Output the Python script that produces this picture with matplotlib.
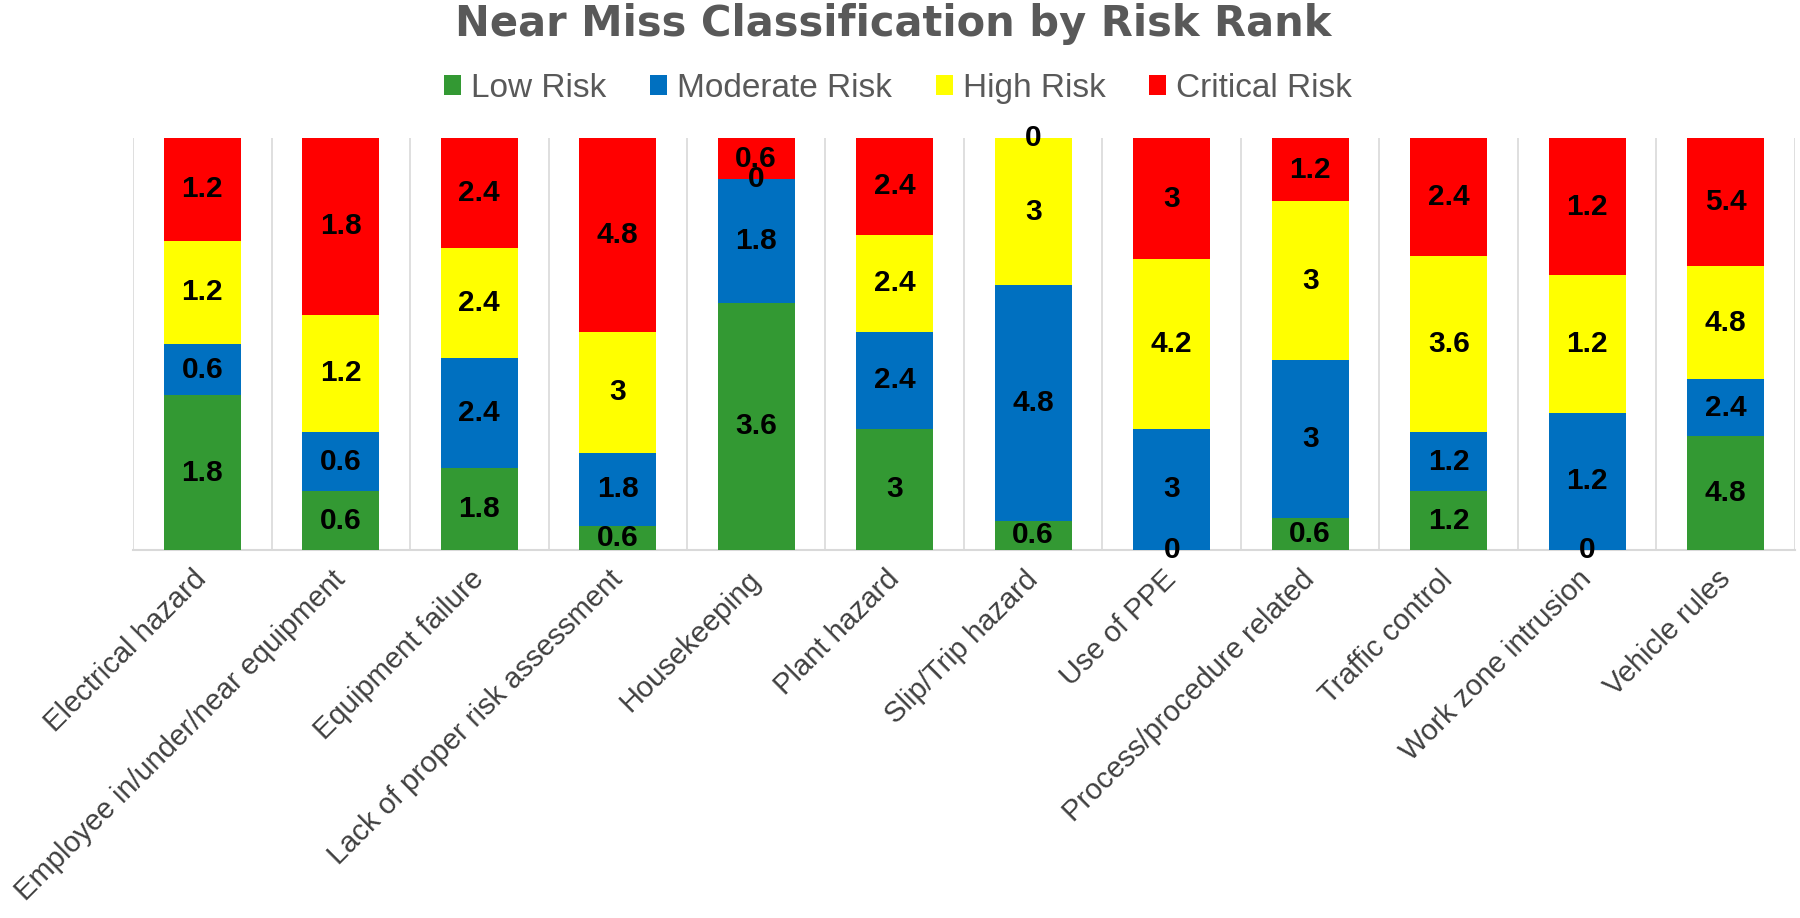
import matplotlib
matplotlib.use("Agg")
import matplotlib.pyplot as plt
import numpy as np

categories = ["Electrical hazard", "Employee in/under/near equipment", "Equipment failure",
              "Lack of proper risk assessment", "Housekeeping", "Plant hazard",
              "Slip/Trip hazard", "Use of PPE", "Process/procedure related",
              "Traffic control", "Work zone intrusion", "Vehicle rules"]
low_risk      = [1.8, 0.6, 1.8, 0.6, 3.6, 3.0, 0.6, 0.0, 0.6, 1.2, 0.0, 4.8]
moderate_risk = [0.6, 0.6, 2.4, 1.8, 1.8, 2.4, 4.8, 3.0, 3.0, 1.2, 1.2, 2.4]
high_risk     = [1.2, 1.2, 2.4, 3.0, 0.0, 2.4, 3.0, 4.2, 3.0, 3.6, 1.2, 4.8]
critical_risk = [1.2, 1.8, 2.4, 4.8, 0.6, 2.4, 0.0, 3.0, 1.2, 2.4, 1.2, 5.4]
series_names = ["Low Risk", "Moderate Risk", "High Risk", "Critical Risk"]
colors = ["#339933", "#0070C0", "#FFFF00", "#FF0000"]

series = [low_risk, moderate_risk, high_risk, critical_risk]
data = np.array(series, dtype=float)
totals = data.sum(axis=0)
shares = data / totals

fig = plt.figure(figsize=(18, 9.18), dpi=100)
ax = fig.add_axes([0.0739, 0.4009, 0.9233, 0.4488])

x = np.arange(len(categories))
bottom = np.zeros(len(categories))
handles = []
for name, vals, frac, col in zip(series_names, series, shares, colors):
    bars = ax.bar(x, frac, bottom=bottom, width=0.555, color=col, label=name,
                  edgecolor="none", zorder=3)
    handles.append(bars)
    for xi, b, f, v in zip(x, bottom, frac, vals):
        lbl = f"{v:g}"
        ax.text(xi, b + f / 2, lbl, ha="center", va="center", fontsize=21.5,
                fontweight="bold", family="Liberation Sans", color="black", zorder=5)
    bottom = bottom + frac

ax.set_xlim(-0.5, len(categories) - 0.5)
ax.set_ylim(0, 1)
ax.set_yticks([])
for b in np.arange(-0.5, len(categories), 1.0):
    ax.axvline(b, color="#d9d9d9", lw=1.2, zorder=1)
for s in ["top", "right", "left"]:
    ax.spines[s].set_visible(False)
ax.spines["bottom"].set_color("#d9d9d9")
ax.spines["bottom"].set_linewidth(1.5)
ax.set_xticks(x)
ax.set_xticklabels(categories, rotation=45, ha="right", va="center",
                   rotation_mode="anchor", fontsize=21, family="Liberation Sans",
                   color="#404040")
ax.tick_params(axis="x", length=0, pad=18)

fig.text(0.496, 0.974, "Near Miss Classification by Risk Rank", ha="center", va="center",
         fontsize=30, fontweight="bold", family="DejaVu Sans", color="#595959")

leg = fig.legend(handles=handles, labels=series_names, loc="center",
                 bbox_to_anchor=(0.499, 0.904), ncol=4, frameon=False,
                 prop={"family": "Liberation Sans", "size": 24},
                 handlelength=0.52, handleheight=0.52, handletextpad=0.3,
                 columnspacing=1.3, labelcolor="#595959")

fig.savefig("out.png", dpi=100, facecolor="white")
